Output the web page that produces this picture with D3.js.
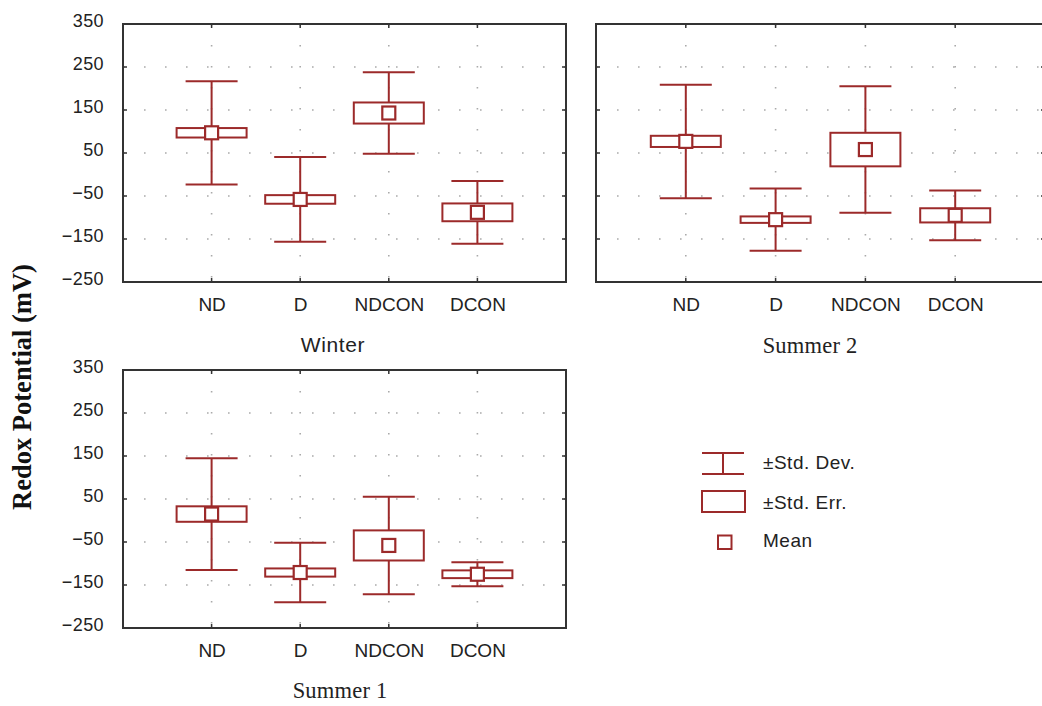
<!DOCTYPE html>
<html>
<head>
<meta charset="utf-8">
<script src="https://cdn.jsdelivr.net/npm/d3@7"></script>
<style>
  html, body { margin: 0; padding: 0; background: #fff; }
  svg { display: block; }
  .tick-lbl { font-family: "Liberation Sans", Arial, sans-serif; font-size: 18px; fill: #222; }
  .cat-lbl { font-family: "Liberation Sans", Arial, sans-serif; font-size: 19px; fill: #222; }
</style>
</head>
<body>
<svg id="chart" width="1042" height="706"></svg>
<script>
// Redox potential by treatment: mean, ± standard error, ± standard deviation
const categories = ["ND", "D", "NDCON", "DCON"];
const yTicks = [-250, -150, -50, 50, 150, 250, 350];

const winterMean = [97, -58, 143, -88];
const winterSE   = [11, 10, 24.5, 20.7];
const winterSD   = [120, 98.5, 95, 73];

const summer2Mean = [77, -105, 58, -95];
const summer2SE   = [13, 7.5, 39, 16.5];
const summer2SD   = [132, 72.5, 147, 58];

const summer1Mean = [15, -121, -58, -125];
const summer1SE   = [18, 9.5, 35, 9];
const summer1SD   = [130, 69, 113.5, 28];

const legendLabels = ["\u00B1Std. Dev.", "\u00B1Std. Err.", "Mean"];

const RED = "#9c2a2a";
const svg = d3.select("#chart");

const panels = [
  { title: "Winter",   mean: winterMean,  se: winterSE,  sd: winterSD,
    x0: 123, x1: 566, y0: 24, y1: 282, yLabels: true,
    titleX: 333, titleY: 352, titleSize: 21, titleSpacing: 0.6,
    titleFont: '"Liberation Sans", Arial, sans-serif' },
  { title: "Summer 2", mean: summer2Mean, se: summer2SE, sd: summer2SD,
    x0: 596, x1: 1045, y0: 24, y1: 282, yLabels: false,
    titleX: 810, titleY: 353, titleSize: 22.5, titleSpacing: 0.2,
    titleFont: '"Liberation Serif", "Times New Roman", serif' },
  { title: "Summer 1", mean: summer1Mean, se: summer1SE, sd: summer1SD,
    x0: 123, x1: 566, y0: 370, y1: 628, yLabels: true,
    titleX: 340, titleY: 698, titleSize: 22.5, titleSpacing: 0.2,
    titleFont: '"Liberation Serif", "Times New Roman", serif' }
];

panels.forEach(p => {
  const x = d3.scalePoint().domain(categories).range([p.x0, p.x1]).padding(1);
  const y = d3.scaleLinear().domain([-250, 350]).range([p.y1, p.y0]);
  const g = svg.append("g");

  // dotted grid
  g.selectAll("line.hgrid").data(yTicks.filter(t => t > -250 && t < 350)).enter()
    .append("line")
    .attr("x1", p.x0).attr("x2", p.x1)
    .attr("y1", d => y(d)).attr("y2", d => y(d))
    .attr("stroke", "#aaa").attr("stroke-width", 1.6)
    .attr("stroke-dasharray", "1.6,19.4");
  g.selectAll("line.vgrid").data(categories).enter()
    .append("line")
    .attr("x1", d => x(d)).attr("x2", d => x(d))
    .attr("y1", p.y0).attr("y2", p.y1)
    .attr("stroke", "#aaa").attr("stroke-width", 1.6)
    .attr("stroke-dasharray", "1.6,19.4");

  // frame ticks (inward)
  yTicks.forEach(t => {
    g.append("line").attr("x1", p.x0).attr("x2", p.x0 + 4)
      .attr("y1", y(t)).attr("y2", y(t)).attr("stroke", "#333").attr("stroke-width", 1.5);
    g.append("line").attr("x1", p.x1).attr("x2", p.x1 - 4)
      .attr("y1", y(t)).attr("y2", y(t)).attr("stroke", "#333").attr("stroke-width", 1.5);
  });
  categories.forEach(c => {
    g.append("line").attr("x1", x(c)).attr("x2", x(c))
      .attr("y1", p.y0).attr("y2", p.y0 + 4).attr("stroke", "#333").attr("stroke-width", 1.5);
    g.append("line").attr("x1", x(c)).attr("x2", x(c))
      .attr("y1", p.y1).attr("y2", p.y1 - 4).attr("stroke", "#333").attr("stroke-width", 1.5);
  });

  // frame
  g.append("rect").attr("x", p.x0).attr("y", p.y0)
    .attr("width", p.x1 - p.x0).attr("height", p.y1 - p.y0)
    .attr("fill", "none").attr("stroke", "#333").attr("stroke-width", 2);

  // y axis labels
  if (p.yLabels) {
    const ax = svg.append("g").attr("transform", `translate(${p.x0 - 19},0)`)
      .call(d3.axisLeft(y).tickValues(yTicks).tickSize(0).tickPadding(0));
    ax.select(".domain").remove();
    ax.selectAll("text").attr("class", "tick-lbl").attr("dy", "0.14em")
      .attr("letter-spacing", "0.4px")
      .attr("font-size", null).attr("font-family", null);
  }

  // category labels
  const bx = svg.append("g").attr("transform", `translate(0,${p.y1 + 15})`)
    .call(d3.axisBottom(x).tickSize(0).tickPadding(0));
  bx.select(".domain").remove();
  bx.selectAll("text").attr("class", "cat-lbl").attr("dy", "0.71em")
    .attr("font-size", null).attr("font-family", null);

  const rows = categories.map((c, i) => ({ c, m: p.mean[i], se: p.se[i], sd: p.sd[i] }));
  const capW = 26, boxW = 35, mW = 6.5;

  // whiskers (±SD)
  const wg = g.selectAll("g.wh").data(rows).enter().append("g")
    .attr("stroke", RED).attr("stroke-width", 2).attr("fill", "none");
  wg.append("line").attr("x1", d => x(d.c)).attr("x2", d => x(d.c))
    .attr("y1", d => y(d.m + d.sd)).attr("y2", d => y(d.m - d.sd));
  wg.append("line").attr("x1", d => x(d.c) - capW).attr("x2", d => x(d.c) + capW)
    .attr("y1", d => y(d.m + d.sd)).attr("y2", d => y(d.m + d.sd));
  wg.append("line").attr("x1", d => x(d.c) - capW).attr("x2", d => x(d.c) + capW)
    .attr("y1", d => y(d.m - d.sd)).attr("y2", d => y(d.m - d.sd));

  // boxes (±SE)
  g.selectAll("rect.se").data(rows).enter().append("rect")
    .attr("x", d => x(d.c) - boxW).attr("width", boxW * 2)
    .attr("y", d => y(d.m + d.se)).attr("height", d => y(d.m - d.se) - y(d.m + d.se))
    .attr("fill", "#fff").attr("stroke", RED).attr("stroke-width", 2);

  // mean markers
  g.selectAll("rect.mean").data(rows).enter().append("rect")
    .attr("x", d => x(d.c) - mW).attr("width", mW * 2)
    .attr("y", d => y(d.m) - mW).attr("height", mW * 2)
    .attr("fill", "#fff").attr("stroke", RED).attr("stroke-width", 2.2);

  // panel title
  svg.append("text").attr("x", p.titleX).attr("y", p.titleY)
    .attr("text-anchor", "middle")
    .attr("font-family", p.titleFont).attr("font-size", p.titleSize)
    .attr("letter-spacing", p.titleSpacing + "px")
    .attr("fill", "#222").text(p.title);
});

// y axis title
svg.append("text")
  .attr("transform", "translate(31,387) rotate(-90)")
  .attr("text-anchor", "middle")
  .attr("font-family", '"Liberation Serif", "Times New Roman", serif')
  .attr("font-weight", "bold").attr("font-size", 26.5).attr("fill", "#111")
  .text("Redox Potential (mV)");

// legend
const lg = svg.append("g");
lg.append("path")
  .attr("d", "M702,453H744M702,474H744M723,453V474")
  .attr("stroke", RED).attr("stroke-width", 2).attr("fill", "none");
lg.append("rect").attr("x", 702).attr("y", 491).attr("width", 43).attr("height", 21)
  .attr("fill", "#fff").attr("stroke", RED).attr("stroke-width", 2);
lg.append("rect").attr("x", 718).attr("y", 535.5).attr("width", 13.5).attr("height", 13.5)
  .attr("fill", "#fff").attr("stroke", RED).attr("stroke-width", 2);
lg.selectAll("text").data(legendLabels).enter().append("text")
  .attr("x", 763).attr("y", (d, i) => [469, 509, 547][i])
  .attr("font-family", '"Liberation Sans", Arial, sans-serif')
  .attr("font-size", 19).attr("letter-spacing", "0.5px")
  .attr("fill", "#222").text(d => d);
</script>
</body>
</html>
